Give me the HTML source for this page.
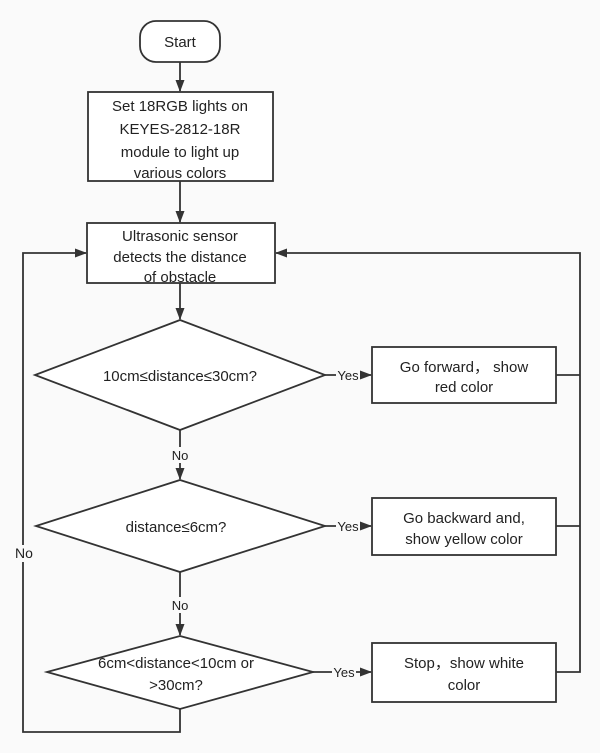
<!DOCTYPE html>
<html><head><style>body{margin:0;background:#fafafa}svg{display:block}</style></head><body>
<svg width="600" height="753" viewBox="0 0 600 753" xmlns="http://www.w3.org/2000/svg" font-family="Liberation Sans, sans-serif" font-size="15" fill="#222">
<defs><marker id="a" markerWidth="12" markerHeight="12" refX="11" refY="6" orient="auto" markerUnits="userSpaceOnUse"><path d="M0,1.5 L12,6 L0,10.5 Z" fill="#333"/></marker></defs>
<rect width="600" height="753" fill="#fafafa"/>
<g stroke="#333" stroke-width="1.8" fill="#fff">
<rect x="140" y="21" width="80" height="41" rx="16"/>
<rect x="88" y="92" width="185" height="89"/>
<rect x="87" y="223" width="188" height="60"/>
<polygon points="180,320 325,375 180,430 35,375"/>
<rect x="372" y="347" width="184" height="56"/>
<polygon points="180,480 325,526 180,572 36,526"/>
<rect x="372" y="498" width="184" height="57"/>
<polygon points="180,636 313,672 180,709 47,672"/>
<rect x="372" y="643" width="184" height="59"/>
</g>
<g stroke="#333" stroke-width="1.8" fill="none">
<line x1="180" y1="62" x2="180" y2="91" marker-end="url(#a)"/>
<line x1="180" y1="181" x2="180" y2="222" marker-end="url(#a)"/>
<line x1="180" y1="283" x2="180" y2="319" marker-end="url(#a)"/>
<line x1="180" y1="430" x2="180" y2="479" marker-end="url(#a)"/>
<line x1="180" y1="572" x2="180" y2="635" marker-end="url(#a)"/>
<line x1="325" y1="375" x2="371" y2="375" marker-end="url(#a)"/>
<line x1="325" y1="526" x2="371" y2="526" marker-end="url(#a)"/>
<line x1="313" y1="672" x2="371" y2="672" marker-end="url(#a)"/>
<polyline points="556,375 580,375"/>
<polyline points="556,526 580,526"/>
<polyline points="556,672 580,672 580,253 276,253" marker-end="url(#a)"/>
<polyline points="180,709 180,732 23,732 23,253 86,253" marker-end="url(#a)"/>
</g>
<g text-anchor="middle">
<text x="180" y="47">Start</text>
<text x="180" y="111">Set 18RGB lights on</text>
<text x="180" y="134">KEYES-2812-18R</text>
<text x="180" y="157">module to light up</text>
<text x="180" y="178">various colors</text>
<text x="180" y="241">Ultrasonic sensor</text>
<text x="180" y="262">detects the distance</text>
<text x="180" y="282">of obstacle</text>
<text x="180" y="381">10cm≤distance≤30cm?</text>
<text x="464" y="372">Go forward， show</text>
<text x="464" y="392">red color</text>
<text x="176" y="532">distance≤6cm?</text>
<text x="464" y="523">Go backward and,</text>
<text x="464" y="544">show yellow color</text>
<text x="176" y="668">6cm&lt;distance&lt;10cm or</text>
<text x="176" y="690">&gt;30cm?</text>
<text x="464" y="668">Stop，show white</text>
<text x="464" y="690">color</text>
</g>
<g font-size="13" text-anchor="middle">
<rect x="170" y="447" width="20" height="16" fill="#fafafa"/><text x="180" y="460">No</text>
<rect x="170" y="597" width="20" height="16" fill="#fafafa"/><text x="180" y="610">No</text>
<rect x="13" y="545" width="22" height="17" fill="#fafafa"/><text x="24" y="558" font-size="14">No</text>
<rect x="336" y="368" width="24" height="14" fill="#fafafa"/><text x="348" y="380">Yes</text>
<rect x="336" y="519" width="24" height="14" fill="#fafafa"/><text x="348" y="531">Yes</text>
<rect x="332" y="665" width="24" height="14" fill="#fafafa"/><text x="344" y="677">Yes</text>
</g>
</svg>
</body></html>
